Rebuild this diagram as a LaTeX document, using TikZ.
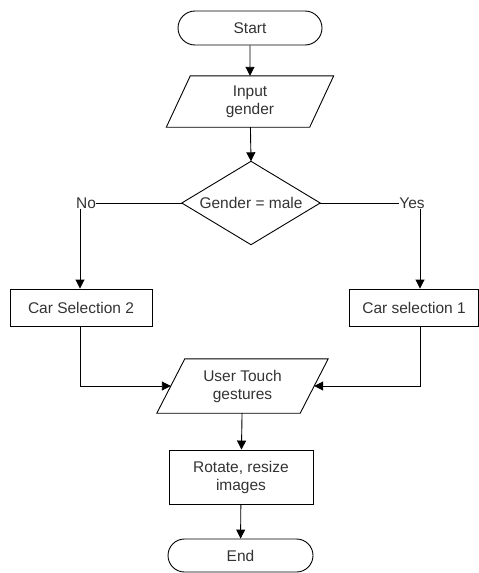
\documentclass[tikz,border=0pt]{standalone}
\usepackage{fontspec}
\setmainfont{Liberation Sans}
\usetikzlibrary{arrows.meta,shapes.misc}
\begin{document}
\begin{tikzpicture}[x=1pt,y=-1pt,
  every node/.style={font=\fontsize{15.5}{18}\selectfont, text=black!80, align=center, inner sep=0pt},
  line/.style={draw=black, line width=0.9pt},
  arr/.style={line, -{Triangle[length=9pt,width=9pt]}},
  term/.style={line, rounded rectangle, minimum height=34pt},
  proc/.style={line, rectangle},
  ghost/.style={draw=none}
]
\useasboundingbox (0,0) rectangle (479,573);
% nodes
\node[term, minimum width=144pt] (start) at (250,28) {Start};
\node[ghost, minimum width=143pt, minimum height=51pt] (in) at (250,101.5) {Input\\gender};
\node[ghost, minimum width=138pt, minimum height=83pt] (dec) at (251,203) {Gender = male};
\node (no) at (86,203) {No};
\node (yes) at (412,203) {Yes};
\node[proc, minimum width=142pt, minimum height=37pt] (cs2) at (81,307.5) {Car Selection 2};
\node[proc, minimum width=129pt, minimum height=37pt] (cs1) at (414,307.5) {Car selection 1};
\node[ghost, minimum width=143pt, minimum height=54pt] (ut) at (242.5,386) {User Touch\\gestures};
\node[proc, minimum width=144pt, minimum height=54pt] (rot) at (241,477) {Rotate, resize\\images};
\node[term, minimum width=145pt, minimum height=33pt] (end) at (240.5,555.5) {End};
\coordinate (lx) at (80,0);
\coordinate (rx) at (420,0);
% shape outlines
\draw[line] ([xshift=12pt]in.north west) -- ([xshift=12pt]in.north east) -- ([xshift=-12pt]in.south east) -- ([xshift=-12pt]in.south west) -- cycle;
\draw[line] ([xshift=14pt]ut.north west) -- ([xshift=14pt]ut.north east) -- ([xshift=-14pt]ut.south east) -- ([xshift=-14pt]ut.south west) -- cycle;
\draw[line] (dec.north) -- (dec.east) -- (dec.south) -- (dec.west) -- cycle;
% connectors
\draw[arr] (start) -- (in);
\draw[arr] (in) -- (dec.north);
\draw[line] (no.east) -- (dec.west);
\draw[line] (dec.east) -- (yes.west);
\draw[arr] (no.south -| lx) -- (cs2.north -| lx);
\draw[arr] (yes.south -| rx) -- (cs1.north -| rx);
\draw[arr] (cs2.south -| lx) |- (ut.west);
\draw[arr] (cs1.south -| rx) |- (ut.east);
\draw[arr] (ut) -- (rot);
\draw[arr] (rot) -- (end);
\end{tikzpicture}
\end{document}
